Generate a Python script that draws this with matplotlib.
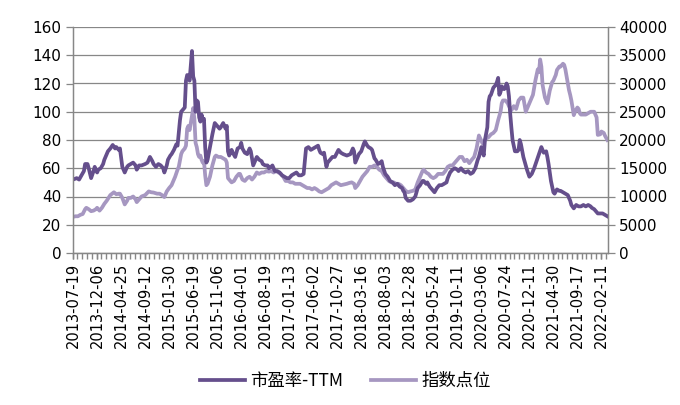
import matplotlib
matplotlib.use('Agg')
import matplotlib.pyplot as plt
from matplotlib.ticker import MultipleLocator, FixedLocator

plt.rcParams['font.family'] = ['DejaVu Sans', 'Noto Sans CJK SC']

# weekly categories, 2013-07-19 onwards
n_weeks = 446
tick_labels = ['2013-07-19', '2013-12-06', '2014-04-25', '2014-09-12', '2015-01-30',
               '2015-06-19', '2015-11-06', '2016-04-01', '2016-08-19', '2017-01-13',
               '2017-06-02', '2017-10-27', '2018-03-16', '2018-08-03', '2018-12-28',
               '2019-05-24', '2019-10-11', '2020-03-06', '2020-07-24', '2020-12-11',
               '2021-04-30', '2021-09-17', '2022-02-11']
label_step = 20

# PE-TTM (week index, value)
pe_weeks = [0, 3, 5, 7, 9, 10, 12, 13, 15, 17, 18, 20, 21, 23, 25, 26, 29, 31, 33, 35,
            36, 38, 39, 41, 43, 45, 46, 48, 50, 52, 53, 55, 57, 60, 62, 64, 66, 67, 69, 71,
            73, 75, 76, 78, 79, 81, 82, 84, 86, 87, 89, 90, 91, 93, 94, 95, 96, 97, 99, 100,
            101, 102, 103, 104, 105, 106, 107, 108, 109, 110, 111, 112, 114, 116, 118, 120, 122, 123, 125, 126,
            127, 128, 129, 130, 132, 133, 135, 137, 139, 140, 141, 143, 145, 147, 148, 150, 152, 153, 155, 157,
            158, 160, 162, 163, 165, 166, 168, 170, 172, 174, 176, 178, 180, 182, 184, 186, 188, 190, 192, 193,
            194, 196, 198, 200, 202, 204, 205, 206, 208, 209, 210, 211, 212, 214, 216, 218, 221, 223, 225, 228,
            231, 233, 234, 235, 236, 238, 240, 242, 243, 245, 246, 248, 249, 251, 252, 254, 256, 257, 258, 260,
            262, 264, 266, 268, 270, 272, 274, 275, 276, 277, 279, 281, 283, 285, 287, 289, 291, 292, 294, 295,
            297, 299, 301, 303, 305, 307, 309, 311, 312, 314, 316, 318, 320, 321, 323, 325, 327, 329, 331, 333,
            335, 337, 338, 340, 341, 342, 343, 345, 346, 347, 348, 350, 352, 353, 354, 355, 356, 357, 359, 360,
            361, 362, 363, 364, 365, 366, 368, 370, 371, 372, 373, 375, 377, 378, 380, 382, 384, 386, 388, 390,
            391, 392, 394, 395, 396, 398, 399, 400, 401, 403, 405, 406, 408, 410, 412, 414, 415, 417, 419, 421,
            423, 425, 427, 429, 431, 432, 434, 435, 437, 439, 441, 443, 445]
pe_values = [52, 53, 52, 55, 58, 63, 63, 60, 53, 58, 61, 57, 59, 60, 63, 66, 72, 74, 76.5, 74,
             75, 73, 74, 61, 57, 61, 62, 63, 64, 62, 59, 62, 62, 63, 64, 68, 65, 63, 61, 63,
             62, 60, 57, 62, 66, 69, 70, 73, 77, 76, 94, 100, 101, 103, 122, 126, 125, 122, 143, 125,
             122, 100, 108, 107, 96, 93, 98, 94, 95, 75, 64, 66, 75, 84, 92, 90, 88, 89, 92, 90,
             88, 90, 72, 69, 73, 71, 68, 74, 75, 78, 74, 71, 70, 74, 72, 62, 66, 68, 66, 65,
             63, 62, 62, 60, 61, 62, 58, 58, 57, 55, 54, 53, 53, 55, 56, 57, 55, 55, 56, 65,
             74, 75, 73, 74, 75, 76, 73, 71, 70, 71, 66, 61, 64, 66, 68, 68, 73, 71, 70, 69,
             70, 74, 72, 64, 66, 70, 72, 77, 79, 76, 75, 74, 73, 67, 66, 63, 64, 65, 61, 56,
             54, 51, 50, 48, 49, 47, 46, 44, 43, 39, 37, 37, 38, 40, 46, 48, 51, 51, 49, 50,
             47, 45, 43, 46, 48, 48, 49, 50, 53, 57, 59, 60, 59, 58, 60, 58, 57, 58, 56, 57,
             60, 66, 68, 75, 72, 69, 80, 89, 107, 111, 112, 117, 119, 121, 124, 112, 114, 118, 116, 117,
             120, 118, 111, 99, 89, 80, 72, 72, 73, 80, 77, 68, 62, 59, 54, 56, 60, 65, 70, 75,
             73, 71, 72, 68, 63, 51, 47, 43, 42, 45, 44, 44, 43, 42, 41, 37, 34, 31.6, 34, 33,
             33, 34, 33, 34, 33, 32, 31, 30, 28, 28, 28, 27, 26]

# index level (week index, points)
idx_weeks = [0, 2, 4, 6, 8, 10, 11, 13, 15, 17, 19, 20, 22, 24, 26, 28, 31, 33, 34, 36,
             38, 39, 41, 43, 45, 46, 48, 50, 52, 53, 55, 57, 60, 63, 65, 67, 70, 72, 74, 76,
             78, 80, 82, 83, 85, 87, 88, 90, 91, 93, 94, 95, 96, 97, 99, 100, 101, 102, 103, 104,
             105, 106, 107, 108, 109, 110, 111, 112, 114, 116, 118, 119, 121, 123, 125, 127, 128, 129, 130, 132,
             134, 136, 138, 139, 141, 143, 145, 147, 149, 151, 153, 155, 157, 159, 161, 163, 165, 167, 169, 171,
             173, 175, 177, 179, 181, 183, 185, 187, 189, 191, 193, 195, 197, 199, 201, 203, 205, 207, 209, 211,
             213, 215, 217, 219, 221, 223, 225, 228, 230, 232, 234, 235, 237, 239, 241, 243, 245, 247, 249, 251,
             253, 255, 257, 259, 261, 263, 265, 267, 269, 271, 273, 275, 277, 279, 281, 283, 285, 287, 289, 291,
             292, 294, 296, 298, 300, 302, 304, 306, 308, 310, 312, 314, 316, 318, 320, 322, 324, 326, 328, 330,
             332, 334, 336, 338, 341, 344, 346, 348, 350, 352, 354, 356, 357, 358, 360, 362, 363, 365, 367, 369,
             371, 373, 375, 377, 379, 381, 383, 385, 387, 388, 389, 390, 391, 393, 395, 397, 399, 400, 402, 403,
             405, 406, 408, 409, 410, 412, 413, 414, 415, 417, 418, 420, 421, 422, 423, 425, 427, 429, 431, 432,
             434, 435, 436, 437, 439, 440, 442, 443, 445]
idx_values = [6400, 6500, 6500, 6750, 6900, 7750, 8000, 7750, 7400, 7500, 7750, 8000, 7500, 8000, 8700, 9250, 10250, 10600, 10750, 10400,
              10500, 10500, 9750, 8600, 9250, 9750, 9750, 10000, 9500, 9000, 9500, 10000, 10250, 10900, 10750, 10700, 10500, 10500, 10250, 9900,
              10900, 11500, 12000, 12500, 13500, 14750, 15250, 17500, 18000, 18500, 19000, 22000, 22500, 21750, 24250, 25650, 23750, 19500, 18750, 17500,
              17000, 17250, 16500, 16000, 16250, 13750, 12000, 12250, 13500, 15500, 17000, 17250, 17000, 17000, 16750, 16500, 16000, 13250, 13000, 12500,
              12750, 13500, 14000, 14000, 13000, 12750, 13250, 13500, 13000, 13500, 14250, 14000, 14250, 14250, 14500, 14400, 14500, 14250, 14500, 14250,
              14000, 13500, 12750, 12750, 12500, 12500, 12250, 12250, 12250, 12000, 11750, 11500, 11500, 11250, 11500, 11250, 10900, 10750, 11000, 11250,
              11500, 12000, 12250, 12500, 12250, 12000, 12100, 12250, 12400, 12500, 12250, 11500, 12000, 12750, 13500, 14000, 14500, 15250, 15250, 15500,
              15250, 14750, 14500, 13750, 13250, 12750, 12500, 12500, 12250, 12250, 12000, 11500, 11000, 10750, 10900, 11000, 11250, 12500, 13500, 14500,
              14750, 14250, 14000, 13500, 13250, 13500, 14000, 14000, 14000, 14500, 15250, 15500, 15500, 16000, 16500, 17000, 17000, 16250, 16500, 15900,
              16500, 17000, 18500, 20800, 19400, 20250, 20500, 21000, 21250, 21750, 23500, 25000, 26500, 27000, 27000, 26500, 26000, 25250, 26000, 25500,
              27000, 27500, 27500, 25000, 26000, 27000, 28000, 30500, 32500, 32000, 34250, 33000, 29750, 27500, 26500, 28750, 30250, 30500, 31500, 32400,
              33000, 33000, 33500, 33300, 32500, 30000, 28850, 28000, 27000, 24400, 25000, 25750, 25500, 24750, 24500, 24500, 24500, 24750, 25000, 25000,
              25000, 24500, 24000, 20900, 21000, 21500, 21250, 20750, 20000]

pe_color = '#654F8C'
idx_color = '#A697C1'
grid_color = '#878787'

fig = plt.figure(figsize=(6.8, 4.05), dpi=100)
ax = fig.add_axes([72.5 / 680, 1 - 253 / 405, 535.5 / 680, 226 / 405])
ax2 = ax.twinx()

line1, = ax.plot(pe_weeks, pe_values, color=pe_color, linewidth=2.7)
line2, = ax2.plot(idx_weeks, idx_values, color=idx_color, linewidth=2.7)
# PE line sits on top of the index line
ax.set_zorder(ax2.get_zorder() + 1)
ax.patch.set_visible(False)

ax.set_xlim(-0.5, n_weeks - 0.5)
ax.set_ylim(0, 160)
ax2.set_ylim(0, 40000)
ax.yaxis.set_major_locator(MultipleLocator(20))
ax2.yaxis.set_major_locator(MultipleLocator(5000))
# grid on the lower axes so it stays under both lines
ax2.grid(axis='y', color=grid_color, linewidth=0.9)
ax2.set_axisbelow(True)

positions = list(range(0, n_weeks, label_step))[:len(tick_labels)]
ax.set_xticks(positions)
ax.set_xticklabels(tick_labels, rotation=90, fontsize=10.5)
ax.xaxis.set_minor_locator(FixedLocator([i - 0.5 for i in range(0, n_weeks + 1, 4)]))
ax.tick_params(axis='x', which='both', length=4, width=1, color=grid_color, pad=3)
ax.tick_params(axis='y', length=5, width=0.9, color=grid_color, labelsize=11, pad=3)
ax2.tick_params(axis='y', length=5, width=0.9, color=grid_color, labelsize=11, pad=3)

for a in (ax, ax2):
    a.spines['top'].set_visible(False)
    for s in ('left', 'right', 'bottom'):
        a.spines[s].set_color(grid_color)
        a.spines[s].set_linewidth(0.9)

fig.legend([line1, line2], ['市盈率-TTM', '指数点位'], loc='center',
           bbox_to_anchor=(345 / 680, 1 - 381 / 405), ncol=2, frameon=False,
           prop={'family': ['Noto Sans CJK SC'], 'size': 12.5},
           handlelength=2.6, handletextpad=0.3, columnspacing=1.6)

fig.savefig('out.png', dpi=100)
plt.close(fig)
